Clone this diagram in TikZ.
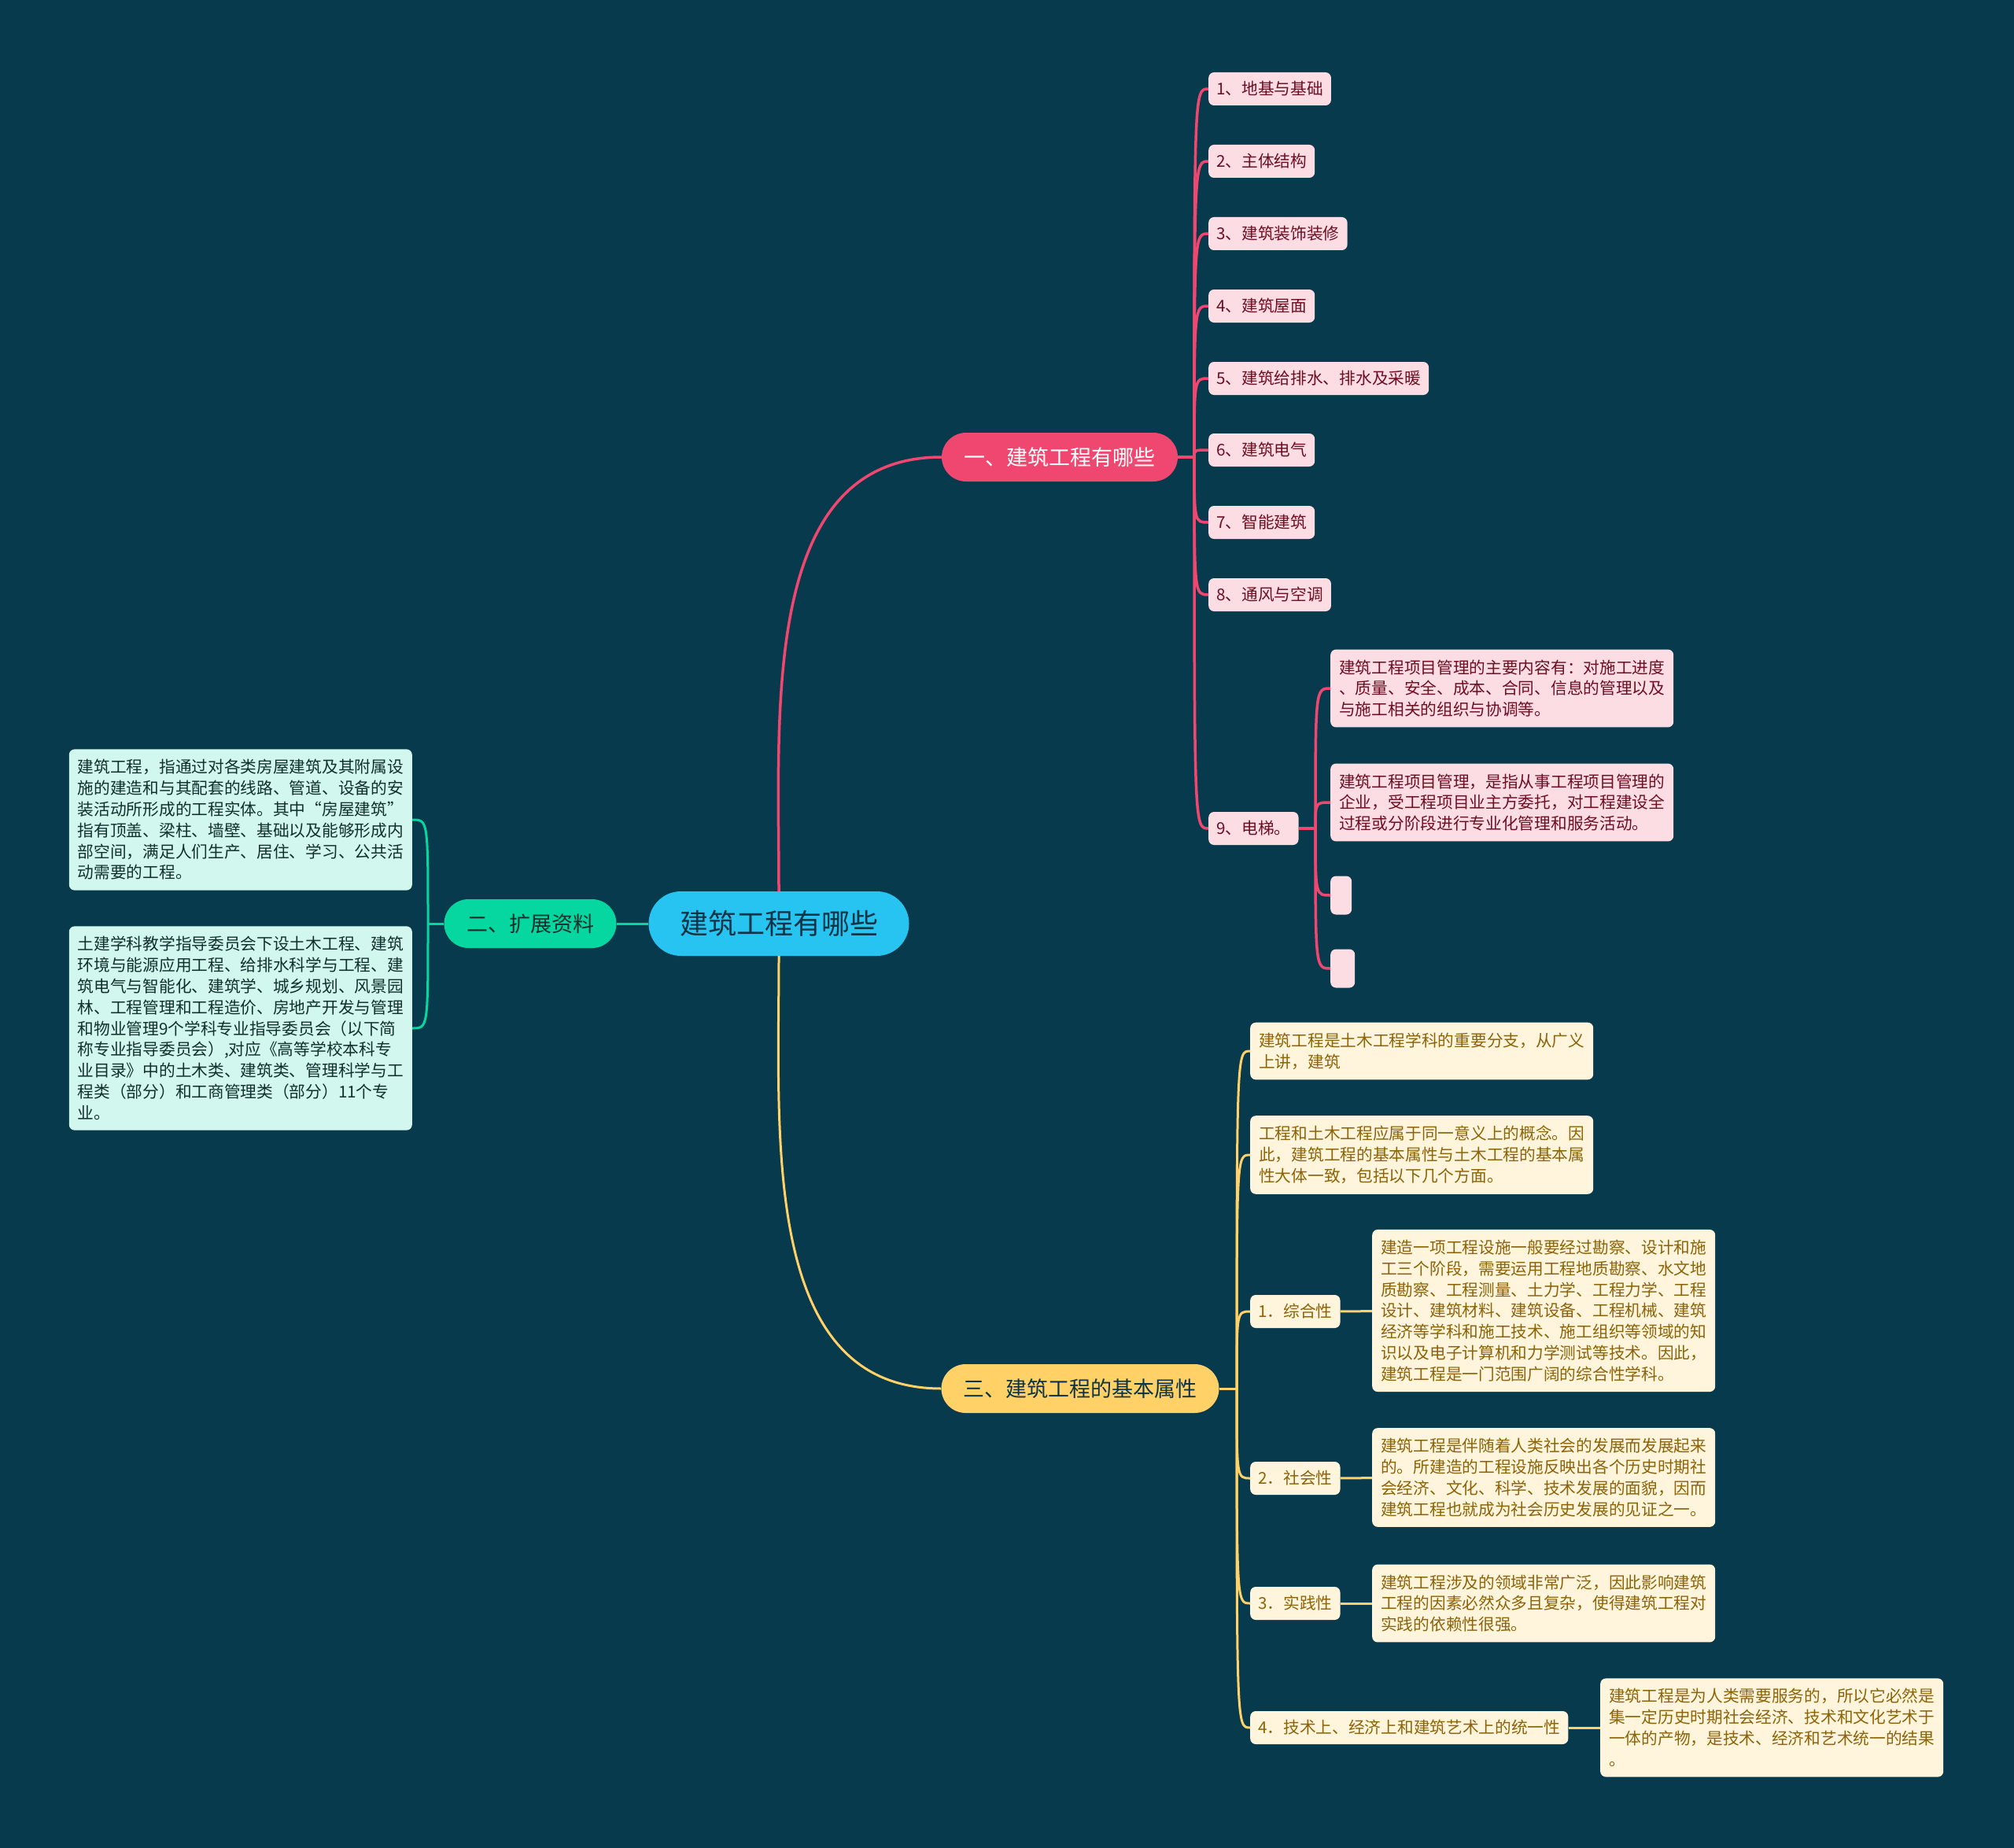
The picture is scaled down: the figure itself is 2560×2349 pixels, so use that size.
\documentclass[tikz,border=0pt]{standalone}
\usepackage{fontspec}
\setmainfont{Noto Sans CJK SC}
\usepackage{xcolor}

\definecolor{bgcol}{HTML}{083A4D}
\definecolor{bluemain}{HTML}{27C4F2}
\definecolor{bluetext}{HTML}{0C3446}
\definecolor{pinkmain}{HTML}{EF476F}
\definecolor{pinkfill}{HTML}{FDDDE4}
\definecolor{pinktext}{HTML}{6D0E22}
\definecolor{greenmain}{HTML}{06D6A0}
\definecolor{greenfill}{HTML}{D2F7EE}
\definecolor{greentext}{HTML}{10302E}
\definecolor{yellowmain}{HTML}{FFD166}
\definecolor{yellowfill}{HTML}{FFF5DC}
\definecolor{yellowtext}{HTML}{8C6308}

\tikzset{
  rootbox/.style={fill=bluemain, text=bluetext, rounded corners=41pt,
    minimum width=331pt, minimum height=82pt, inner sep=0pt,
    font=\fontsize{36}{40}\selectfont},
  mainbox/.style={rounded corners=31pt, minimum height=62pt, inner sep=0pt,
    font=\fontsize{27}{32}\selectfont},
  leafbox/.style={rounded corners=7pt, inner xsep=10pt, inner ysep=7pt,
    minimum height=42pt, font=\fontsize{20.7}{26.8}\selectfont},
  textbox/.style={rounded corners=7pt, inner xsep=11pt, inner ysep=13pt,
    text width=414pt, align=left, font=\fontsize{20.7}{26.8}\selectfont},
  pinkleaf/.style={leafbox, fill=pinkfill, text=pinktext, anchor=west},
  pinktext/.style={textbox, fill=pinkfill, text=pinktext, anchor=west},
  greentext/.style={textbox, fill=greenfill, text=greentext, anchor=east},
  yellowleaf/.style={leafbox, fill=yellowfill, text=yellowtext, anchor=west},
  yellowtext/.style={textbox, fill=yellowfill, text=yellowtext, anchor=west},
  pinkline/.style={draw=pinkmain, line width=3.5pt},
  greenline/.style={draw=greenmain, line width=3pt},
  yellowline/.style={draw=yellowmain, line width=3pt},
}

\begin{document}
\begin{tikzpicture}[x=1pt,y=-1pt]
  \useasboundingbox (0,0) rectangle (2560,2349);
  \fill[bgcol] (0,0) rectangle (2560,2349);

  % root and main branches
  \node[rootbox] (root) at (990,1174) {建筑工程有哪些};
  \node[mainbox, fill=pinkmain, text=white, minimum width=300pt] (b1) at (1347,581) {一、建筑工程有哪些};
  \node[mainbox, fill=greenmain, text=greentext, minimum width=219pt] (b2) at (674,1174) {二、扩展资料};
  \node[mainbox, fill=yellowmain, text=bluetext, minimum width=353pt] (b3) at (1373,1765) {三、建筑工程的基本属性};

  \coordinate (j1) at (1518,581);
  \coordinate (j9) at (1672,1053);
  \coordinate (j2) at (544,1174);
  \coordinate (j3) at (1572,1765);

  % first branch
  \foreach \i/\y/\t in {1/113/1、地基与基础, 2/205/2、主体结构, 3/297/3、建筑装饰装修,
    4/389/4、建筑屋面, 5/481/5、建筑给排水、排水及采暖, 6/572/6、建筑电气,
    7/664/7、智能建筑, 8/756/8、通风与空调, 9/1053/9、电梯。}
    \node[pinkleaf] (p\i) at (1536,\y) {\t};

  \node[pinktext] (q1) at (1691,875) {建筑工程项目管理的主要内容有：对施工进度\\、质量、安全、成本、合同、信息的管理以及\\与施工相关的组织与协调等。};
  \node[pinktext] (q2) at (1691,1020) {建筑工程项目管理，是指从事工程项目管理的\\企业，受工程项目业主方委托，对工程建设全\\过程或分阶段进行专业化管理和服务活动。};
  \node[pinkleaf, minimum width=27pt, minimum height=49pt, inner sep=0pt] (q3) at (1691,1138) {};
  \node[pinkleaf, minimum width=31pt, minimum height=49pt, inner sep=0pt] (q4) at (1691,1231) {};

  % second branch
  \node[greentext] (g1) at (524,1042) {建筑工程，指通过对各类房屋建筑及其附属设\\施的建造和与其配套的线路、管道、设备的安\\装活动所形成的工程实体。其中“房屋建筑”\\指有顶盖、梁柱、墙壁、基础以及能够形成内\\部空间，满足人们生产、居住、学习、公共活\\动需要的工程。};
  \node[greentext] (g2) at (524,1307) {土建学科教学指导委员会下设土木工程、建筑\\环境与能源应用工程、给排水科学与工程、建\\筑电气与智能化、建筑学、城乡规划、风景园\\林、工程管理和工程造价、房地产开发与管理\\和物业管理9个学科专业指导委员会（以下简\\称专业指导委员会）,对应《高等学校本科专\\业目录》中的土木类、建筑类、管理科学与工\\程类（部分）和工商管理类（部分）11个专\\业。};

  % third branch
  \node[yellowtext] (y1) at (1589,1336) {建筑工程是土木工程学科的重要分支，从广义\\上讲，建筑};
  \node[yellowtext] (y2) at (1589,1468) {工程和土木工程应属于同一意义上的概念。因\\此，建筑工程的基本属性与土木工程的基本属\\性大体一致，包括以下几个方面。};
  \node[yellowleaf] (y3) at (1589,1667) {1．综合性};
  \node[yellowleaf] (y4) at (1589,1879) {2．社会性};
  \node[yellowleaf] (y5) at (1589,2038) {3．实践性};
  \node[yellowleaf] (y6) at (1589,2196) {4．技术上、经济上和建筑艺术上的统一性};
  \node[yellowtext] (z3) at (1744,1666) {建造一项工程设施一般要经过勘察、设计和施\\工三个阶段，需要运用工程地质勘察、水文地\\质勘察、工程测量、土力学、工程力学、工程\\设计、建筑材料、建筑设备、工程机械、建筑\\经济等学科和施工技术、施工组织等领域的知\\识以及电子计算机和力学测试等技术。因此，\\建筑工程是一门范围广阔的综合性学科。};
  \node[yellowtext] (z4) at (1744,1878) {建筑工程是伴随着人类社会的发展而发展起来\\的。所建造的工程设施反映出各个历史时期社\\会经济、文化、科学、技术发展的面貌，因而\\建筑工程也就成为社会历史发展的见证之一。};
  \node[yellowtext] (z5) at (1744,2038) {建筑工程涉及的领域非常广泛，因此影响建筑\\工程的因素必然众多且复杂，使得建筑工程对\\实践的依赖性很强。};
  \node[yellowtext] (z6) at (2034,2196) {建筑工程是为人类需要服务的，所以它必然是\\集一定历史时期社会经济、技术和文化艺术于\\一体的产物，是技术、经济和艺术统一的结果\\。};

  % connectors
  \draw[pinkline] (root.north) to[out=90,in=180] (b1.west);
  \draw[yellowline] (root.south) to[out=-90,in=180] (b3.west);
  \draw[greenline] (root.west) -- (b2.east);

  \draw[pinkline] (b1.east) -- (j1);
  \foreach \i in {1,...,9}
    \draw[pinkline] (j1) .. controls (j1 |- p\i.west) .. (p\i.west);
  \draw[pinkline] (p9.east) -- (j9);
  \foreach \i in {1,2,3,4}
    \draw[pinkline] (j9) .. controls (j9 |- q\i.west) .. (q\i.west);

  \draw[greenline] (b2.west) -- (j2);
  \foreach \i in {1,2}
    \draw[greenline] (j2) .. controls (j2 |- g\i.east) .. (g\i.east);

  \draw[yellowline] (b3.east) -- (j3);
  \foreach \i in {1,...,6}
    \draw[yellowline] (j3) .. controls (j3 |- y\i.west) .. (y\i.west);
  \foreach \S/\E in {y3/z3, y4/z4, y5/z5, y6/z6}
    \draw[yellowline] (\S) -- (\E);
\end{tikzpicture}
\end{document}
